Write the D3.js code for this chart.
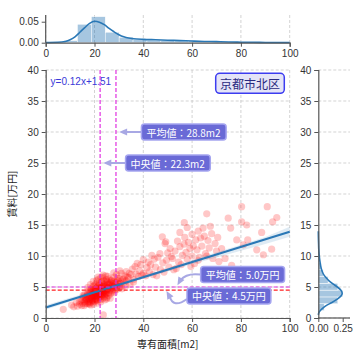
<!DOCTYPE html>
<html><head><meta charset="utf-8">
<script src="https://cdn.jsdelivr.net/npm/d3@7"></script>
<style>
html,body{margin:0;padding:0;background:#fff;}
svg text{font-family:"Noto Sans CJK JP","Noto Sans",sans-serif;}
</style></head><body>
<svg id="chart" width="360" height="360"></svg>
<script>
// ---------- data ----------
const areaX = [7.2,10.6,11.5,12.5,13,23.6,
14,14.5,15,15.2,15.5,16,16,16.3,16.7,17,17,17.2,17.5,17.8,18,18,18.2,18.4,18.6,18.8,19,19,19.2,19.4,19.6,19.8,20,20,20.1,20.3,20.5,20.6,20.8,21,21,21.2,21.3,21.5,21.6,21.8,22,22,22.1,22.3,22.5,22.6,22.8,23,23,23.2,23.4,23.5,23.7,23.9,24,24,24.2,24.4,24.6,24.8,25,25,25.2,25.5,25.7,26,26,26.3,26.6,27,27,27.3,27.6,28,28,28.4,28.8,29,29.2,29.6,30,30,30.5,31,31,31.5,32,32.5,33,33,34,34.5,35,35.5,36,36.6,37,38,38.5,39,40,40,41,41.5,42,42.5,43,44,44.5,45,46,46.8,47,47.8,48,48.9,49.2,49.5,50,50.5,51,52,52.5,53,54,54.5,55,55.5,56,56.7,56.8,57,58,58.5,59.1,60,60,61,61.5,62,62.5,63,63.5,64,65,65.5,66,66.5,67,68,68.5,69.4,70,72.1,73.5,74.8,75.8,76.2,78.3,80.3,80.3,81,82.4,82.8,86.5,88.5,89.2,90.8,92.6,93,94.7,
15.8,16.5,17.3,17.6,18.1,18.5,18.9,19.1,19.3,19.5,19.7,19.9,20.2,20.4,20.7,20.9,21.1,21.4,21.7,21.9,22.2,22.4,22.7,22.9,23.1,23.3,23.6,23.8,24.1,24.3,24.5,24.7,24.9,25.1,25.3,25.6,25.9,26.2,26.5,26.8,27.2,27.5,27.8,28.2,28.6,29,29.4,29.8,30.3,30.8,31.3,32.2,32.8,33.5,34.2,21.3,19.6,17.9,16.2,14.8,13.8,15.3,22.5,24.2,26.4,18.3,20.8,23.3,25.4,27.9,30.4,19.5,17.2,
36,37.5,39.5,43.5,45.5,48.5,51.5,53.5,57.5,59.5,62.5,64.5,66,67.5,70.5,71,55,58,60.5,
16.4,17.1,17.7,18.3,18.7,19.2,19.8,20.3,20.6,21.2,21.6,22.0,22.4,22.8,23.2,23.7,24.1,24.6,25.0,25.5,26.1,26.7,27.4,28.1,29.1,18.9,20.0,21.0,22.0,23.0,24.0,25.0,19.4,21.5,23.5];
const rentY = [1.4,2.1,1.8,2.5,1.9,0.5,
2.2,2.8,3.0,2.4,3.4,2.6,3.8,3.1,2.9,3.5,2.3,4.0,3.2,2.7,3.9,3.0,4.4,2.5,3.6,4.1,3.3,4.8,2.9,3.8,4.3,5.2,3.5,4.0,2.7,4.6,3.2,5.5,3.9,4.4,3.0,5.0,6.2,3.6,4.1,4.7,3.3,5.4,4.2,3.8,4.9,6.5,3.5,4.5,5.8,4.0,3.2,5.1,4.4,6.0,3.7,4.8,5.5,4.1,6.8,3.9,5.0,4.4,5.9,4.7,3.6,5.3,6.3,4.5,5.7,4.9,6.1,4.2,5.5,6.6,5.0,4.6,5.8,7.0,5.2,6.0,4.8,6.4,5.6,7.2,5.1,6.2,5.7,6.8,7.5,6.0,6.5,5.4,7.0,7.9,6.2,8.3,7.1,6.7,7.6,8.6,9.4,7.2,6.8,8.1,9.0,7.5,8.6,7.0,9.5,8.2,9.8,10.4,7.8,13.1,8.9,12.0,12.3,9.3,10.5,8.2,11.2,9.6,7.8,10.8,12.4,9.0,11.5,8.6,10.1,11.9,15.4,13.0,9.5,12.2,11.2,10.0,13.5,8.8,12.6,11.0,14.0,9.8,12.9,11.6,13.2,10.4,16.8,12.5,11.3,13.6,9.6,12.0,10.8,11.2,9.6,16.1,14.5,8.5,12.6,17.95,15.5,11.8,15.0,12.6,11.0,13.8,10.2,17.95,11.1,15.5,16.2,
2.0,3.3,2.6,4.4,3.4,2.1,3.1,4.1,3.6,2.6,4.6,3.9,3.1,4.2,3.6,4.9,2.8,4.0,3.4,5.6,4.6,3.0,4.3,5.1,3.7,4.8,4.2,5.4,3.4,4.5,5.2,4.0,6.2,3.3,4.6,5.4,4.1,4.9,3.9,6.0,5.2,4.4,5.9,4.1,5.4,4.6,6.4,5.5,5.0,6.0,4.7,6.3,5.2,6.6,7.2,2.4,2.2,2.2,2.3,2.0,2.6,3.6,2.6,2.9,3.2,5.4,6.0,6.6,6.7,7.3,7.6,5.9,4.9,
5.8,8.8,6.9,10.1,6.8,7.4,9.9,8.0,10.6,8.3,9.3,14.5,10.0,14.8,13.0,9.1,13.8,14.6,11.6,
2.9,3.7,2.4,3.2,4.6,2.8,3.5,4.4,2.9,3.8,5.2,4.0,3.6,4.7,5.9,3.9,5.0,4.3,3.1,4.9,5.6,4.7,5.1,5.6,4.9,3.3,4.3,3.5,4.8,3.9,4.3,5.7,5.1,6.6,6.9];

// fitted line and confidence band
const fitX = [0, 100];
const fitY = [1.7, 13.9];
const bandX  = [0, 10, 20, 30, 40, 50, 60, 70, 80, 90, 100];
const bandLo = [1.35, 2.65, 3.95, 5.15, 6.35, 7.5, 8.65, 9.75, 10.85, 11.95, 13.1];
const bandHi = [2.05, 3.25, 4.45, 5.65, 6.85, 8.05, 9.35, 10.6, 11.8, 13.05, 14.7];

// area (x) marginal
const areaBinEdges = [7.3,13.0,18.7,24.4,30.1,35.8,41.5,47.2,52.9,58.6,64.3,70,75.7,81.4,87.1,92.8,98.5];
const areaBinDens  = [0.005,0.044,0.062,0.025,0.013,0.007,0.006,0.005,0.004,0.004,0.003,0.002,0.0015,0.001,0.001,0.0005];
const areaKdeX = [0,5,8,10,12,14,16,18,20,22,24,26,28,30,32,34,36,40,45,50,55,60,65,70,75,80,85,90,95,100];
const areaKdeY = [0.0005,0.001,0.003,0.007,0.014,0.025,0.036,0.046,0.051,0.049,0.043,0.034,0.026,0.019,0.014,0.011,0.0095,0.008,0.007,0.006,0.005,0.004,0.003,0.0025,0.0018,0.0012,0.0009,0.0006,0.0004,0.0003];

// rent (y) marginal
const rentBinEdges = [1.2,2.3,3.4,4.5,5.6,6.7,7.8,8.9,10.0,11.1,12.2,13.3,14.4,15.5,16.6,17.7];
const rentBinDens  = [0.06,0.20,0.25,0.20,0.10,0.05,0.03,0.015,0.01,0.006,0.004,0.002,0.002,0.002,0.002];
const rentKdeY = [0.5,1,1.5,2,2.5,3,3.5,4,4.5,5,5.5,6,6.5,7,7.5,8,9,10,11,12,13,14];
const rentKdeX = [0.0,0.01,0.04,0.08,0.14,0.19,0.23,0.245,0.23,0.195,0.15,0.11,0.08,0.055,0.04,0.03,0.018,0.01,0.005,0.003,0.001,0.0];

const xTicks = [0,20,40,60,80,100];
const yTicks = [0,5,10,15,20,25,30,35,40];
const topYTicks = [0.00, 0.05];
const rightXTicks = [0.00, 0.25];

const areaMean = 28.8, areaMedian = 22.3;
const rentMean = 5.0, rentMedian = 4.5;
const eqText = "y=0.12x+1.51";
const regionText = "京都市北区";
const xLabel = "専有面積[m2]";
const yLabel = "賃料[万円]";
// annotations: text, arrow tip [x,y] (data), text centre [x,y] (data)
const annTexts = ["平均値：28.8m2","中央値：22.3m2","平均値：5.0万円","中央値：4.5万円"];
const annTips  = [[30.1,30],[23.6,25],[54,5.3],[49.5,4.35]];
const annPos   = [[56.5,30],[50,25],[80.7,7.0],[75.1,3.55]];

// ---------- drawing ----------
const svg = d3.select("#chart");
const L = 45.7, R = 289.7, T = 70, B = 318;
const x = d3.scaleLinear().domain([0,100]).range([L,R]);
const y = d3.scaleLinear().domain([0,40]).range([B,T]);
const yTop = d3.scaleLinear().domain([0,0.066]).range([42.7,15]);
const xRight = d3.scaleLinear().domain([0,0.25]).range([318.3,342.7]);
const gridC = "#c8c8c8", spineC = "#555", tickTxt = "#333";
const blue = "#2a78b6";

function styleAxis(g){
  g.selectAll(".domain").attr("stroke",spineC).attr("stroke-width",1.2);
  g.selectAll(".tick line").attr("stroke",spineC);
  g.selectAll(".tick text").attr("fill",tickTxt).attr("font-size",10)
    .style("font-family","'Liberation Sans','Noto Sans',sans-serif");
}

// main grid
const grid = svg.append("g");
grid.selectAll(".gx").data(xTicks).join("line")
  .attr("x1",d=>x(d)).attr("x2",d=>x(d)).attr("y1",T).attr("y2",B)
  .attr("stroke",gridC).attr("stroke-width",0.8).attr("stroke-dasharray","3,2");
grid.selectAll(".gy").data(yTicks).join("line")
  .attr("x1",L).attr("x2",R).attr("y1",d=>y(d)).attr("y2",d=>y(d))
  .attr("stroke",gridC).attr("stroke-width",0.8).attr("stroke-dasharray","3,2");

// scatter
svg.append("g").selectAll("circle").data(areaX.map((v,i)=>[v,rentY[i]])).join("circle")
  .attr("cx",d=>x(d[0])).attr("cy",d=>y(d[1])).attr("r",3.6)
  .attr("fill","#ff0000").attr("fill-opacity",0.22);

// confidence band
svg.append("path").datum(bandX.map((v,i)=>[v,bandLo[i],bandHi[i]]))
  .attr("d",d3.area().x(d=>x(d[0])).y0(d=>y(d[1])).y1(d=>y(d[2])))
  .attr("fill",blue).attr("fill-opacity",0.15);
// fit line
svg.append("path").datum(fitX.map((v,i)=>[v,fitY[i]]))
  .attr("d",d3.line().x(d=>x(d[0])).y(d=>y(d[1])))
  .attr("stroke",blue).attr("stroke-width",2.2).attr("fill","none");

// reference lines
const mag = "#e030e0";
[areaMedian, areaMean].forEach(v=>{
  svg.append("line").attr("x1",x(v)).attr("x2",x(v)).attr("y1",T).attr("y2",B)
    .attr("stroke",mag).attr("stroke-width",1.2).attr("stroke-dasharray","4,2");
});
svg.append("line").attr("x1",L).attr("x2",R).attr("y1",y(rentMean)).attr("y2",y(rentMean))
  .attr("stroke",mag).attr("stroke-width",1.2).attr("stroke-dasharray","4,2");
svg.append("line").attr("x1",L).attr("x2",R).attr("y1",y(rentMedian)).attr("y2",y(rentMedian))
  .attr("stroke","#ff2020").attr("stroke-width",1.2).attr("stroke-dasharray","4,2");

// axes main
svg.append("g").attr("transform",`translate(0,${B})`)
  .call(d3.axisBottom(x).tickValues(xTicks).tickSize(4).tickPadding(3)).call(styleAxis);
svg.append("g").attr("transform",`translate(${L},0)`)
  .call(d3.axisLeft(y).tickValues(yTicks).tickSize(4).tickPadding(3)).call(styleAxis);

// eq text
svg.append("text").attr("x",x(2)).attr("y",y(38)+3).attr("font-size",10)
  .attr("fill","#3a3ad8").style("font-family","'Liberation Sans','Noto Sans',sans-serif").text(eqText);

// region label
{
  const cx = 250, cy = 83.3;
  const g = svg.append("g");
  g.append("rect").attr("x",cx-34.3).attr("y",cy-10).attr("width",68.6).attr("height",20)
    .attr("rx",4).attr("fill","#e4e4f7").attr("stroke","#3c3cf0").attr("stroke-width",1.5);
  g.append("text").attr("x",cx).attr("y",cy).attr("text-anchor","middle")
    .attr("dominant-baseline","central").attr("font-size",12).attr("fill","#2a2a80").text(regionText);
}

// annotations
const arrowC = "#a8a8e4";
annTexts.forEach((s,i)=>{
  const g = svg.append("g");
  const tp = [x(annTips[i][0]), y(annTips[i][1])];
  const cp = [x(annPos[i][0]), y(annPos[i][1])];
  const arrowG = g.append("g"), boxG = g.append("g");
  const t = boxG.append("text").attr("x",cp[0]).attr("y",cp[1]).attr("text-anchor","middle")
    .attr("dominant-baseline","central").attr("font-size",10).attr("fill","#ffffff").text(s);
  const bb = t.node().getBBox();
  const bx0 = bb.x-5, bw = bb.width+10, bh = 16, by0 = cp[1]-8;
  boxG.insert("rect","text").attr("x",bx0).attr("y",by0).attr("width",bw).attr("height",bh).attr("rx",3)
    .attr("fill","#6a6ad6").attr("stroke","#a5a5f0").attr("stroke-width",1.5);
  function head(tip, from){
    const ang = Math.atan2(tip[1]-from[1], tip[0]-from[0]);
    const len = 8, w = 3.5;
    const hx = tip[0]-len*Math.cos(ang), hy = tip[1]-len*Math.sin(ang);
    const px = -Math.sin(ang)*w, py = Math.cos(ang)*w;
    arrowG.append("path").attr("d",`M${tip[0]},${tip[1]}L${hx+px},${hy+py}L${hx-px},${hy-py}Z`).attr("fill",arrowC);
  }
  if(i<2){
    arrowG.append("line").attr("x1",bx0).attr("y1",cp[1]).attr("x2",tp[0]+6).attr("y2",tp[1])
      .attr("stroke",arrowC).attr("stroke-width",2);
    head(tp,[bx0,cp[1]]);
  } else if(i===2){
    const st = [bx0, cp[1]];
    arrowG.append("path").attr("d",`M${st[0]},${st[1]}Q${st[0]-14},${st[1]-2} ${tp[0]+3},${tp[1]-5}`)
      .attr("stroke",arrowC).attr("stroke-width",2).attr("fill","none");
    head(tp,[tp[0]+4,tp[1]-7]);
  } else {
    const st = [bx0, cp[1]+3];
    arrowG.append("path").attr("d",`M${st[0]},${st[1]}Q${st[0]-14},${st[1]+10} ${tp[0]+3},${tp[1]+5}`)
      .attr("stroke",arrowC).attr("stroke-width",2).attr("fill","none");
    head(tp,[tp[0]+4,tp[1]+7]);
  }
});

// axis labels
svg.append("text").attr("x",(L+R)/2).attr("y",348).attr("text-anchor","middle")
  .attr("font-size",10).attr("fill","#222").text(xLabel);
svg.append("text").attr("transform",`translate(16,${(T+B)/2}) rotate(-90)`).attr("text-anchor","middle")
  .attr("font-size",10).attr("fill","#222").text(yLabel);

// ---- top marginal ----
const topG = svg.append("g");
topG.selectAll("line.g").data(xTicks).join("line")
  .attr("x1",d=>x(d)).attr("x2",d=>x(d)).attr("y1",15).attr("y2",42.7)
  .attr("stroke",gridC).attr("stroke-width",0.8).attr("stroke-dasharray","3,2");
topG.selectAll("rect").data(areaBinDens).join("rect")
  .attr("x",(d,i)=>x(areaBinEdges[i])).attr("width",(d,i)=>x(areaBinEdges[i+1])-x(areaBinEdges[i]))
  .attr("y",d=>yTop(d)).attr("height",d=>yTop(0)-yTop(d))
  .attr("fill",blue).attr("fill-opacity",0.42).attr("stroke","#fff").attr("stroke-width",0.5);
topG.append("path").datum(areaKdeX.map((v,i)=>[v,areaKdeY[i]]))
  .attr("d",d3.line().curve(d3.curveMonotoneX).x(d=>x(d[0])).y(d=>yTop(d[1])))
  .attr("fill","none").attr("stroke",blue).attr("stroke-width",1.6);
svg.append("g").attr("transform","translate(0,42.7)")
  .call(d3.axisBottom(x).tickValues(xTicks).tickSize(4).tickPadding(3)).call(styleAxis);
svg.append("g").attr("transform",`translate(${L},0)`)
  .call(d3.axisLeft(yTop).tickValues(topYTicks).tickFormat(d3.format(".2f")).tickSize(4).tickPadding(3)).call(styleAxis)
  .select(".domain").attr("d",`M0,15V42.7`);

// ---- right marginal ----
const rG = svg.append("g");
rG.selectAll("line.g").data(yTicks).join("line")
  .attr("x1",318.3).attr("x2",350).attr("y1",d=>y(d)).attr("y2",d=>y(d))
  .attr("stroke",gridC).attr("stroke-width",0.8).attr("stroke-dasharray","3,2");
rG.selectAll("rect").data(rentBinDens).join("rect")
  .attr("y",(d,i)=>y(rentBinEdges[i+1])).attr("height",(d,i)=>y(rentBinEdges[i])-y(rentBinEdges[i+1]))
  .attr("x",xRight(0)).attr("width",d=>xRight(d)-xRight(0))
  .attr("fill",blue).attr("fill-opacity",0.42).attr("stroke","#fff").attr("stroke-width",0.5);
rG.append("path").datum(rentKdeY.map((v,i)=>[rentKdeX[i],v]))
  .attr("d",d3.line().curve(d3.curveMonotoneY).x(d=>xRight(d[0])).y(d=>y(d[1])))
  .attr("fill","none").attr("stroke",blue).attr("stroke-width",1.6);
svg.append("g").attr("transform",`translate(318.3,0)`)
  .call(d3.axisLeft(y).tickValues(yTicks).tickSize(4).tickPadding(3)).call(styleAxis);
svg.append("g").attr("transform",`translate(0,${B})`)
  .call(d3.axisBottom(xRight).tickValues(rightXTicks).tickFormat(d3.format(".2f")).tickSize(4).tickPadding(3)).call(styleAxis)
  .select(".domain").attr("d",`M318.3,0H350`);
</script>
</body></html>
